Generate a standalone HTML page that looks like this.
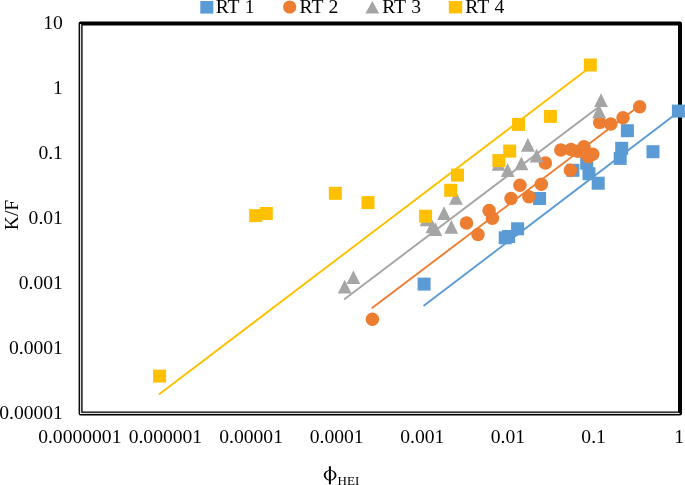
<!DOCTYPE html>
<html><head><meta charset="utf-8"><title>Chart</title>
<style>html,body{margin:0;padding:0;background:#fff;}body{width:685px;height:485px;overflow:hidden;}svg{display:block;will-change:transform;}text{font-family:"Liberation Serif",serif;font-size:19.6px;fill:#000;}</style></head><body>
<svg width="685" height="485" viewBox="0 0 685 485">
<rect x="0" y="0" width="685" height="485" fill="#fff"/>
<rect x="80.6" y="23.6" width="599.4" height="389.8" fill="none" stroke="#000" stroke-width="4" stroke-linejoin="round"/>
<path d="M80.6 23.900000000000002 V413.4 H679.5" fill="none" stroke="#E0E0E0" stroke-width="1.3" stroke-linejoin="round"/>
<line x1="424.1" y1="305.5" x2="678.4" y2="112.1" stroke="#5B9BD5" stroke-width="1.9" stroke-linecap="round"/>
<line x1="372.4" y1="307.8" x2="639.7" y2="105.5" stroke="#ED7D31" stroke-width="1.9" stroke-linecap="round"/>
<line x1="344.7" y1="298.9" x2="601.0" y2="105.3" stroke="#A5A5A5" stroke-width="1.9" stroke-linecap="round"/>
<line x1="159.5" y1="394.0" x2="590.3" y2="67.0" stroke="#FFC000" stroke-width="1.9" stroke-linecap="round"/>
<rect x="417.6" y="277.6" width="13.0" height="13.0" fill="#5B9BD5"/>
<rect x="498.7" y="231.3" width="13.0" height="13.0" fill="#5B9BD5"/>
<rect x="502.1" y="230.0" width="13.0" height="13.0" fill="#5B9BD5"/>
<rect x="511.1" y="222.3" width="13.0" height="13.0" fill="#5B9BD5"/>
<rect x="533.1" y="192.0" width="13.0" height="13.0" fill="#5B9BD5"/>
<rect x="566.4" y="163.8" width="13.0" height="13.0" fill="#5B9BD5"/>
<rect x="580.2" y="156.7" width="13.0" height="13.0" fill="#5B9BD5"/>
<rect x="582.5" y="167.2" width="13.0" height="13.0" fill="#5B9BD5"/>
<rect x="591.7" y="176.7" width="13.0" height="13.0" fill="#5B9BD5"/>
<rect x="613.7" y="151.9" width="13.0" height="13.0" fill="#5B9BD5"/>
<rect x="615.2" y="141.8" width="13.0" height="13.0" fill="#5B9BD5"/>
<rect x="620.9" y="124.2" width="13.0" height="13.0" fill="#5B9BD5"/>
<rect x="646.5" y="145.2" width="13.0" height="13.0" fill="#5B9BD5"/>
<rect x="671.9" y="104.6" width="13.0" height="13.0" fill="#5B9BD5"/>
<circle cx="372.4" cy="319.2" r="6.75" fill="#ED7D31"/>
<circle cx="466.5" cy="222.9" r="6.75" fill="#ED7D31"/>
<circle cx="478.0" cy="234.4" r="6.75" fill="#ED7D31"/>
<circle cx="489.1" cy="210.5" r="6.75" fill="#ED7D31"/>
<circle cx="492.4" cy="218.3" r="6.75" fill="#ED7D31"/>
<circle cx="511.0" cy="198.5" r="6.75" fill="#ED7D31"/>
<circle cx="519.9" cy="185.2" r="6.75" fill="#ED7D31"/>
<circle cx="528.9" cy="196.8" r="6.75" fill="#ED7D31"/>
<circle cx="541.3" cy="184.3" r="6.75" fill="#ED7D31"/>
<circle cx="545.4" cy="162.9" r="6.75" fill="#ED7D31"/>
<circle cx="560.8" cy="150.1" r="6.75" fill="#ED7D31"/>
<circle cx="571.0" cy="149.6" r="6.75" fill="#ED7D31"/>
<circle cx="577.8" cy="151.3" r="6.75" fill="#ED7D31"/>
<circle cx="584.0" cy="146.8" r="6.75" fill="#ED7D31"/>
<circle cx="592.7" cy="154.2" r="6.75" fill="#ED7D31"/>
<circle cx="588.4" cy="156.7" r="6.75" fill="#ED7D31"/>
<circle cx="570.4" cy="170.3" r="6.75" fill="#ED7D31"/>
<circle cx="599.7" cy="122.6" r="6.75" fill="#ED7D31"/>
<circle cx="610.8" cy="123.9" r="6.75" fill="#ED7D31"/>
<circle cx="623.0" cy="117.8" r="6.75" fill="#ED7D31"/>
<circle cx="639.7" cy="106.7" r="6.75" fill="#ED7D31"/>
<path d="M344.7 279.8 L351.6 293.4 H337.8 Z" fill="#A5A5A5"/>
<path d="M353.4 270.4 L360.3 284.1 H346.5 Z" fill="#A5A5A5"/>
<path d="M426.6 212.7 L433.5 226.3 H419.7 Z" fill="#A5A5A5"/>
<path d="M432.4 219.7 L439.3 233.3 H425.5 Z" fill="#A5A5A5"/>
<path d="M435.3 222.3 L442.2 235.9 H428.4 Z" fill="#A5A5A5"/>
<path d="M444.0 206.3 L450.9 219.9 H437.1 Z" fill="#A5A5A5"/>
<path d="M451.3 220.1 L458.2 233.8 H444.4 Z" fill="#A5A5A5"/>
<path d="M455.9 191.1 L462.8 204.8 H449.0 Z" fill="#A5A5A5"/>
<path d="M498.5 157.1 L505.4 170.8 H491.6 Z" fill="#A5A5A5"/>
<path d="M507.7 163.3 L514.6 176.9 H500.8 Z" fill="#A5A5A5"/>
<path d="M521.4 156.5 L528.3 170.2 H514.5 Z" fill="#A5A5A5"/>
<path d="M527.9 138.1 L534.8 151.8 H521.0 Z" fill="#A5A5A5"/>
<path d="M536.6 148.8 L543.5 162.4 H529.7 Z" fill="#A5A5A5"/>
<path d="M599.1 104.5 L606.0 118.2 H592.2 Z" fill="#A5A5A5"/>
<path d="M601.0 93.3 L607.9 107.0 H594.1 Z" fill="#A5A5A5"/>
<rect x="153.1" y="369.6" width="13.0" height="13.0" fill="#FFC000"/>
<rect x="249.2" y="209.1" width="13.0" height="13.0" fill="#FFC000"/>
<rect x="259.8" y="207.0" width="13.0" height="13.0" fill="#FFC000"/>
<rect x="328.8" y="186.8" width="13.0" height="13.0" fill="#FFC000"/>
<rect x="361.5" y="196.1" width="13.0" height="13.0" fill="#FFC000"/>
<rect x="419.1" y="209.7" width="13.0" height="13.0" fill="#FFC000"/>
<rect x="444.2" y="183.8" width="13.0" height="13.0" fill="#FFC000"/>
<rect x="451.0" y="168.6" width="13.0" height="13.0" fill="#FFC000"/>
<rect x="492.4" y="154.1" width="13.0" height="13.0" fill="#FFC000"/>
<rect x="503.2" y="144.6" width="13.0" height="13.0" fill="#FFC000"/>
<rect x="512.0" y="117.9" width="13.0" height="13.0" fill="#FFC000"/>
<rect x="543.9" y="109.9" width="13.0" height="13.0" fill="#FFC000"/>
<rect x="583.8" y="58.5" width="13.0" height="13.0" fill="#FFC000"/>
<text x="62.9" y="29.3" text-anchor="end">10</text>
<text x="62.9" y="94.3" text-anchor="end">1</text>
<text x="62.9" y="159.2" text-anchor="end">0.1</text>
<text x="62.9" y="224.2" text-anchor="end">0.01</text>
<text x="62.9" y="289.2" text-anchor="end">0.001</text>
<text x="62.9" y="354.1" text-anchor="end">0.0001</text>
<text x="62.9" y="419.1" text-anchor="end">0.00001</text>
<text x="79.8" y="442.6" text-anchor="middle">0.0000001</text>
<text x="165.4" y="442.6" text-anchor="middle">0.000001</text>
<text x="251.1" y="442.6" text-anchor="middle">0.00001</text>
<text x="336.7" y="442.6" text-anchor="middle">0.0001</text>
<text x="422.3" y="442.6" text-anchor="middle">0.001</text>
<text x="507.9" y="442.6" text-anchor="middle">0.01</text>
<text x="593.6" y="442.6" text-anchor="middle">0.1</text>
<text x="679.2" y="442.6" text-anchor="middle">1</text>
<text transform="translate(18 215) rotate(-90)" text-anchor="middle">K/F</text>
<path fill-rule="evenodd" d="M323.7 475.25a6.4 5.3 0 1 0 12.8 0a6.4 5.3 0 1 0 -12.8 0Z M325.6 475.25a4.5 4.5 0 1 0 9 0a4.5 4.5 0 1 0 -9 0Z" fill="#000"/>
<rect x="328.9" y="466.3" width="2" height="18" fill="#000"/>
<text x="337.6" y="484.6" style="font-size:13px">HEI</text>
<rect x="200.3" y="1" width="13" height="12.6" fill="#5B9BD5"/>
<text x="215.7" y="13.4" word-spacing="0.7">RT 1</text>
<circle cx="289.7" cy="7" r="6.6" fill="#ED7D31"/>
<text x="299.5" y="13.4" word-spacing="0.7">RT 2</text>
<path d="M372.3 1 L379.2 13.4 H365.4 Z" fill="#A5A5A5"/>
<text x="382.2" y="13.4" word-spacing="0.7">RT 3</text>
<rect x="448.8" y="1" width="13.4" height="12.4" fill="#FFC000"/>
<text x="465.3" y="13.4" word-spacing="0.7">RT 4</text>
</svg></body></html>
